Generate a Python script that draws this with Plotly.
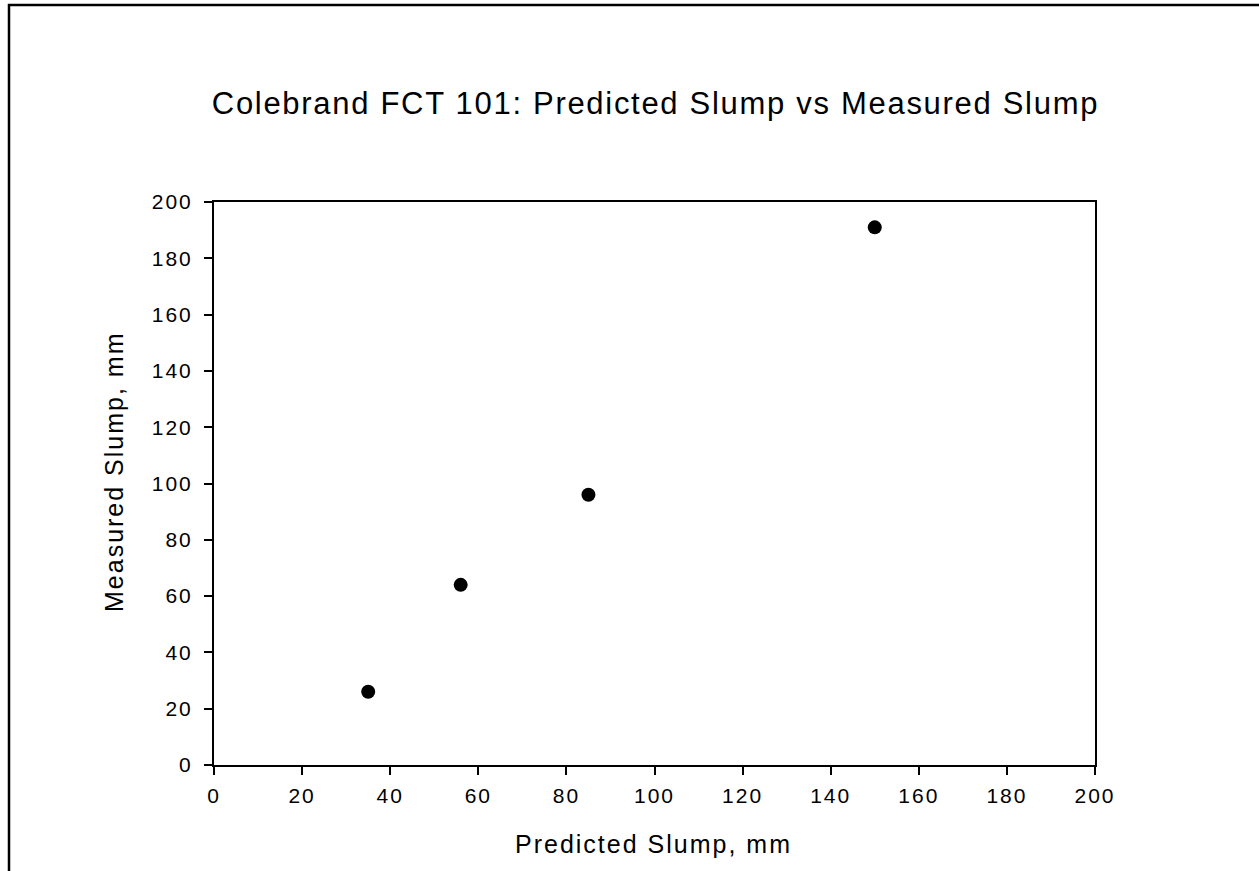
import plotly.graph_objects as go

predicted = [35, 56, 85, 150]
measured = [26, 64, 96, 191]
x_ticks = [0, 20, 40, 60, 80, 100, 120, 140, 160, 180, 200]
y_ticks = [0, 20, 40, 60, 80, 100, 120, 140, 160, 180, 200]
title_text = "Colebrand FCT 101: Predicted Slump vs Measured Slump"
x_title = "Predicted Slump, mm"
y_title = "Measured Slump, mm"

W, H = 1259, 871
L, R, T, B = 214, 1095, 202, 765
FONT = "Liberation Sans, Arial, sans-serif"

fig = go.Figure()
fig.add_trace(go.Scatter(
    x=predicted, y=measured, mode="markers",
    marker=dict(symbol="circle", size=14, color="black", line=dict(width=0)),
    showlegend=False, cliponaxis=False,
))

axis_common = dict(
    range=[0, 200], showgrid=False, zeroline=False, showline=True,
    linecolor="black", linewidth=2, ticks="outside", ticklen=8, tickwidth=2,
    tickcolor="black", tickfont=dict(family=FONT, size=21, color="black"),
    mirror=True, fixedrange=True,
)
fig.update_xaxes(tickvals=x_ticks, ticklabelstandoff=3, **axis_common)
fig.update_yaxes(tickvals=y_ticks, ticklabelstandoff=7, **axis_common)

pw, ph = R - L, B - T
def px_x(p):
    return (p - L) / pw
def px_y(p):
    return (B - p) / ph

fig.add_shape(type="rect", xref="paper", yref="paper",
              x0=px_x(9), x1=px_x(1400), y0=px_y(5), y1=px_y(1000),
              line=dict(color="black", width=2.5), fillcolor="rgba(0,0,0,0)", layer="below")

fig.add_annotation(text=title_text,
                   xref="paper", yref="paper", x=px_x(655), y=px_y(104),
                   showarrow=False, font=dict(family=FONT, size=31, color="black"),
                   xanchor="center", yanchor="middle")
fig.add_annotation(text=x_title, xref="paper", yref="paper",
                   x=px_x(653), y=px_y(844), showarrow=False,
                   font=dict(family=FONT, size=25, color="black"),
                   xanchor="center", yanchor="middle")
fig.add_annotation(text=y_title, xref="paper", yref="paper",
                   x=px_x(114), y=px_y(472), showarrow=False, textangle=-90,
                   font=dict(family=FONT, size=25, color="black"),
                   xanchor="center", yanchor="middle")

fig.update_layout(
    width=W, height=H,
    margin=dict(l=L, r=W - R, t=T, b=H - B, pad=0),
    plot_bgcolor="white", paper_bgcolor="white",
)

css = ("html, body { margin: 0; padding: 0; overflow: hidden; } "
       ".main-svg text { letter-spacing: 2px; } "
       "g.annotation[data-index='0'] text { letter-spacing: 1.7px; }")
post = ("var s=document.createElement('style');s.textContent=" + repr(css) +
        ";document.head.appendChild(s);")
fig.write_html("out.html", post_script=post, config={"displayModeBar": False})
